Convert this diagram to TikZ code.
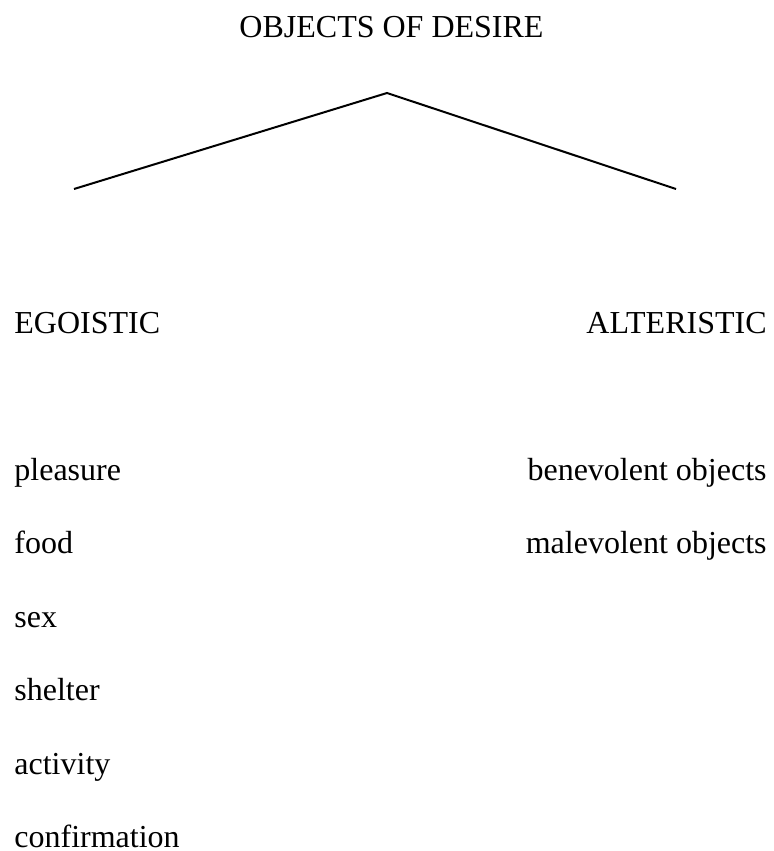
\documentclass[tikz,border=0pt]{standalone}
\usepackage{fontspec}
\setmainfont{Liberation Serif}
\usetikzlibrary{positioning}

\begin{document}
\begin{tikzpicture}[x=0.5pt,y=-0.5pt,node distance=36.75pt,on grid,
  every node/.style={inner sep=0pt,font=\fontsize{16}{19}\selectfont},
  item/.style={anchor=base west},
  ritem/.style={anchor=base east}]
  \useasboundingbox (0,0) rectangle (773,851);
  \node[anchor=base] (title) at (391.5,38) {OBJECTS OF DESIRE};
  \coordinate (apex) at (387,93);
  \coordinate (lend) at (74,189);
  \coordinate (rend) at (676,189);
  \draw[line width=1pt] (lend) -- (apex) -- (rend);
  \node[item] (ego) at (14,333) {EGOISTIC};
  \node[ritem] (alt) at (767,333) {ALTERISTIC};
  \node[item] (pl) [below = 73.5pt of ego.base west, anchor=base west] {pleasure};
  \node[item] (fd) [below = of pl.base west, anchor=base west] {food};
  \node[item] (sx) [below = of fd.base west, anchor=base west] {sex};
  \node[item] (sh) [below = of sx.base west, anchor=base west] {shelter};
  \node[item] (ac) [below = of sh.base west, anchor=base west] {activity};
  \node[item] (cf) [below = of ac.base west, anchor=base west] {confirmation};
  \node[ritem] (ben) [below = 73.5pt of alt.base east, anchor=base east] {benevolent objects};
  \node[ritem] (mal) [below = of ben.base east, anchor=base east] {malevolent objects};
\end{tikzpicture}
\end{document}
